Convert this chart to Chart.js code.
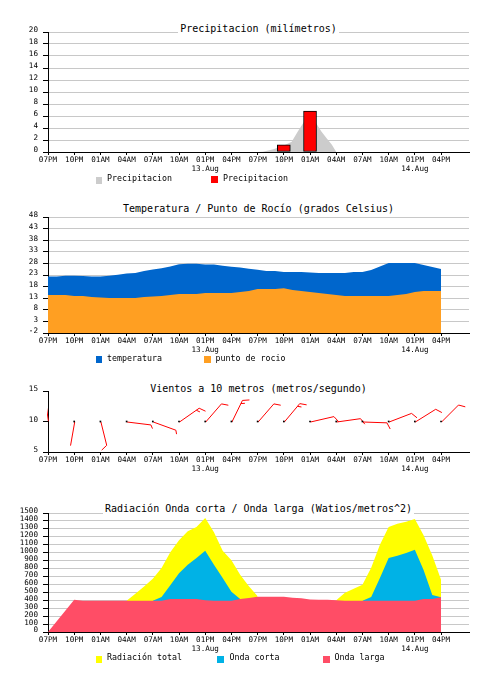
<!DOCTYPE html>
<html><head><meta charset="utf-8">
<script src="https://cdn.jsdelivr.net/npm/chart.js@4/dist/chart.umd.min.js"></script>
<style>
html,body{margin:0;padding:0;background:#fff;}
#wrap{position:relative;width:488px;height:682px;overflow:hidden;font-family:'DejaVu Sans Mono',monospace;background:#fff;}
canvas{position:absolute;left:0;}
.title{position:absolute;left:48px;width:421px;text-align:center;font-size:10px;line-height:12px;color:#000;white-space:nowrap;}
.title span{background:#fff;padding:0 2px;}
.leg{position:absolute;font-size:8.3px;line-height:10px;white-space:nowrap;color:#000;}
.sw{position:absolute;width:6px;height:7px;}
</style></head>
<body>
<div id="wrap">
<canvas id="c1" width="488" height="160" style="top:22px;width:488px;height:160px"></canvas>
<canvas id="c2" width="488" height="156" style="top:207px;width:488px;height:156px"></canvas>
<canvas id="c3" width="488" height="101" style="top:381px;width:488px;height:101px"></canvas>
<canvas id="c4" width="488" height="159" style="top:503px;width:488px;height:159px"></canvas>

<div class="title" style="top:22.5px"><span>Precipitacion (milímetros)</span></div>
<div class="sw" style="left:96px;top:177px;background:#cccccc"></div>
<div class="leg" style="left:107px;top:172.8px">Precipitacion</div>
<div class="sw" style="left:211px;top:176px;width:7px;background:#ff0000"></div>
<div class="leg" style="left:223px;top:172.8px">Precipitacion</div>

<div class="title" style="top:203px"><span>Temperatura / Punto de Rocío (grados Celsius)</span></div>
<div class="sw" style="left:96px;top:356px;background:#0066cc"></div>
<div class="leg" style="left:107px;top:352.8px">temperatura</div>
<div class="sw" style="left:204px;top:356px;width:7px;background:#ff9f22"></div>
<div class="leg" style="left:215.5px;top:352.8px">punto de rocio</div>

<div class="title" style="top:383px"><span>Vientos a 10 metros (metros/segundo)</span></div>

<div class="title" style="top:503px"><span>Radiación Onda corta / Onda larga (Watios/metros^2)</span></div>
<div class="sw" style="left:96px;top:656px;background:#ffff00"></div>
<div class="leg" style="left:107px;top:652px">Radiación total</div>
<div class="sw" style="left:217px;top:656px;width:7px;background:#00b2e6"></div>
<div class="leg" style="left:229.5px;top:652px">Onda corta</div>
<div class="sw" style="left:323px;top:656px;width:7px;background:#ff4d66"></div>
<div class="leg" style="left:334.5px;top:652px">Onda larga</div>
</div>

<script>
// ---------- DATA (hours since 07PM, 12 Aug) ----------
const xTickHours  = [0,3,6,9,12,15,18,21,24,27,30,33,36,39,42,45];
const xTickLabels = ['07PM','10PM','01AM','04AM','07AM','10AM','01PM','04PM','07PM','10PM','01AM','04AM','07AM','10AM','01PM','04PM'];
const dateHours   = [18,42];
const dateLabels  = ['13.Aug','14.Aug'];

const hours = [0,1,2,3,4,5,6,7,8,9,10,11,12,13,14,15,16,17,18,19,20,21,22,23,24,25,26,27,28,29,30,31,32,33,34,35,36,37,38,39,40,41,42,43,44,45];

// Precipitation
const precipTicks = [0,2,4,6,8,10,12,14,16,18,20];
const precipSmoothHours = [24,24.6,25.8,27,27.9,28.6,29.3,30,30.7,31.3,31.9,32.5,33];
const precipSmooth      = [0,0.05,0.45,1.1,1.7,3.4,5.0,5.5,4.8,3.4,2.3,1.2,0];
const precipBarHours = [27,30];
const precipBars     = [1.2,6.8];

// Temperature / dew point
const tempTicks = [-2,3,8,13,18,23,28,33,38,43,48];
const temperatura = [22.3,22.3,22.7,22.7,22.6,22.3,22.3,22.7,23.1,23.6,23.9,24.7,25.4,25.9,26.7,27.6,27.9,27.9,27.5,27.5,27.0,26.6,26.2,25.7,25.3,24.7,24.7,24.3,24.3,24.3,24.1,23.9,23.9,23.9,23.9,24.3,24.3,25.2,26.7,28.2,28.2,28.2,28.2,27.3,26.4,25.6];
const puntoRocio  = [14.4,14.4,14.4,13.9,13.9,13.5,13.3,13.1,13.1,13.1,13.1,13.5,13.7,13.9,14.4,14.8,14.8,14.8,15.2,15.2,15.2,15.2,15.7,16.1,17.0,17.0,17.0,17.3,16.5,16.1,15.7,15.2,14.8,14.4,13.9,13.9,13.9,13.9,13.9,13.9,14.4,14.8,15.7,16.1,16.1,16.1];

// Wind
const windTicks = [5,10,15];
const windHours = [0,3,6,9,12,15,18,21,24,27,30,33,36,39,42,45];
const windLevel = [10,10,10,10,10,10,10,10,10,10,10,10,10,10,10,10];
const windDir   = [352,190,166,97,110,55,41,26,41,40,77,82,92,69,58,45];   // degrees
const windSpeed = [3,3,10,5,5,15,10,15,10,15,10,10,10,10,10,10];         // barb units

// Radiation
const radTicks = [0,100,200,300,400,500,600,700,800,900,1000,1100,1200,1300,1400,1500];
const ondaLarga = [0,135,270,405,395,395,395,395,395,395,395,395,395,395,416,416,416,416,400,395,395,395,416,428,445,445,445,445,433,424,410,407,407,400,395,395,395,395,395,395,395,395,395,416,416,437];
const ondaCorta = [null,null,null,null,null,null,null,null,null,null,null,null,395,441,588,740,849,933,1025,849,681,508,416,null,null,null,null,null,null,null,null,null,null,null,null,null,395,441,681,933,962,996,1038,781,466,437];
const radTotal  = [null,null,null,null,null,null,null,null,null,395,483,575,672,807,1004,1155,1269,1323,1437,1256,1025,903,723,576,450,null,null,null,null,null,null,null,null,400,495,545,597,810,1100,1323,1365,1390,1424,1220,965,660];

// ---------- helpers ----------
Chart.defaults.font.family = "'DejaVu Sans Mono', monospace";
Chart.defaults.font.size = 7.6;
Chart.defaults.color = '#000';

const pts = (xs, ys) => xs.map((x, i) => ({x, y: ys[i]}));

function xAxis() {
  return {
    type: 'linear', min: 0, max: 48.2, offset: false,
    afterBuildTicks: s => { s.ticks = xTickHours.map(v => ({value: v})); },
    afterFit: s => { s.height = 30; },
    grid: {offset: false, drawOnChartArea: false, drawTicks: true, tickLength: 3, color: '#000', tickColor: '#000'},
    border: {color: '#000', width: 1},
    ticks: {
      autoSkip: false, maxRotation: 0, padding: 1,
      font: {size: 7.6, lineHeight: 1.15},
      callback: (v) => {
        const i = xTickHours.indexOf(v);
        if (i < 0) return '';
        const d = dateHours.indexOf(v);
        return d >= 0 ? [xTickLabels[i], dateLabels[d]] : xTickLabels[i];
      }
    }
  };
}
function yAxis(tickArr, showGrid) {
  return {
    type: 'linear', min: tickArr[0], max: tickArr[tickArr.length - 1],
    afterBuildTicks: s => { s.ticks = tickArr.map(v => ({value: v})); },
    afterFit: s => { s.width = 48; },
    grid: {drawOnChartArea: showGrid, drawTicks: true, tickLength: 5, color: '#c8c8c8', tickColor: '#000'},
    border: {color: '#000', width: 1},
    ticks: {autoSkip: false, padding: 5, labelOffset: -1.5, font: {size: 7.6}, callback: v => String(v)}
  };
}
function baseOptions(yTicks, showGrid) {
  return {
    responsive: false, animation: false, devicePixelRatio: 1,
    layout: {padding: {top: 10, right: 19, bottom: 0, left: 0}},
    plugins: {legend: {display: false}, title: {display: false}, tooltip: {enabled: false}},
    scales: {x: xAxis(), y: yAxis(yTicks, showGrid)}
  };
}

// ---------- Chart 1: precipitation ----------
new Chart(document.getElementById('c1'), {
  type: 'bar',
  data: {datasets: [
    {type: 'bar', label: 'Precipitacion', data: pts(precipBarHours, precipBars),
     backgroundColor: '#ff0000', borderColor: '#000', borderWidth: 1, barThickness: 13, borderSkipped: false, order: 1},
    {type: 'line', label: 'Precipitacion', data: pts(precipSmoothHours, precipSmooth),
     backgroundColor: '#cccccc', borderColor: '#cccccc', borderWidth: 0, pointRadius: 0, fill: 'origin', tension: 0, order: 2}
  ]},
  options: baseOptions(precipTicks, true)
});

// ---------- Chart 2: temperature ----------
new Chart(document.getElementById('c2'), {
  type: 'line',
  data: {datasets: [
    {label: 'punto de rocio', data: pts(hours, puntoRocio), backgroundColor: '#ff9f22', borderColor: '#ff9f22',
     borderWidth: 0, pointRadius: 0, fill: 'start', tension: 0, order: 1},
    {label: 'temperatura', data: pts(hours, temperatura), backgroundColor: '#0066cc', borderColor: '#0066cc',
     borderWidth: 0, pointRadius: 0, fill: 'start', tension: 0, order: 2}
  ]},
  options: baseOptions(tempTicks, true)
});

// ---------- Chart 3: wind barbs ----------
const windBarbPlugin = {
  id: 'windBarbs',
  beforeDatasetsDraw(chart) {
    const {ctx, chartArea, scales: {x, y}} = chart;
    const SHAFT = 24, FULL = 7, HALF = 4, GAP = 3.5, ANG = 60 * Math.PI / 180;
    ctx.save();
    ctx.beginPath();
    ctx.rect(chartArea.left - 1, chartArea.top - 12, chartArea.right - chartArea.left + 1, chartArea.bottom - chartArea.top + 12);
    ctx.clip();
    ctx.strokeStyle = '#ff0000';
    ctx.lineWidth = 1;
    windHours.forEach((h, i) => {
      const ox = x.getPixelForValue(h) + 0.5, oy = y.getPixelForValue(windLevel[i]) + 0.5;
      const th = windDir[i] * Math.PI / 180;
      const ux = Math.sin(th), uy = -Math.cos(th);
      const tx = ox + ux * SHAFT, ty = oy + uy * SHAFT;
      const bx = ux * Math.cos(ANG) - uy * Math.sin(ANG);
      const by = ux * Math.sin(ANG) + uy * Math.cos(ANG);
      ctx.beginPath();
      ctx.moveTo(ox, oy); ctx.lineTo(tx, ty);
      let s = windSpeed[i], pos = 0;
      while (s >= 10) {
        const px = tx - ux * pos, py = ty - uy * pos;
        ctx.moveTo(px, py); ctx.lineTo(px + bx * FULL, py + by * FULL);
        pos += GAP; s -= 10;
      }
      if (s >= 5) {
        const px = tx - ux * pos, py = ty - uy * pos;
        ctx.moveTo(px, py); ctx.lineTo(px + bx * HALF, py + by * HALF);
      }
      ctx.stroke();
    });
    ctx.restore();
  }
};
new Chart(document.getElementById('c3'), {
  type: 'scatter',
  data: {datasets: [
    {label: 'viento', data: pts(windHours, windLevel), pointStyle: 'rect', pointRadius: 1.2,
     backgroundColor: '#000', borderColor: '#000', borderWidth: 0}
  ]},
  options: baseOptions(windTicks, false),
  plugins: [windBarbPlugin]
});

// ---------- Chart 4: radiation ----------
new Chart(document.getElementById('c4'), {
  type: 'line',
  data: {datasets: [
    {label: 'Radiación total', data: pts(hours, radTotal), backgroundColor: '#ffff00', borderColor: '#ffff00',
     borderWidth: 0, pointRadius: 0, fill: 'origin', tension: 0, spanGaps: false, order: 3},
    {label: 'Onda corta', data: pts(hours, ondaCorta), backgroundColor: '#00b2e6', borderColor: '#00b2e6',
     borderWidth: 0, pointRadius: 0, fill: 'origin', tension: 0, spanGaps: false, order: 2},
    {label: 'Onda larga', data: pts(hours, ondaLarga), backgroundColor: '#ff4d66', borderColor: '#ff4d66',
     borderWidth: 0, pointRadius: 0, fill: 'origin', tension: 0, order: 1}
  ]},
  options: baseOptions(radTicks, true)
});
</script>
</body></html>
